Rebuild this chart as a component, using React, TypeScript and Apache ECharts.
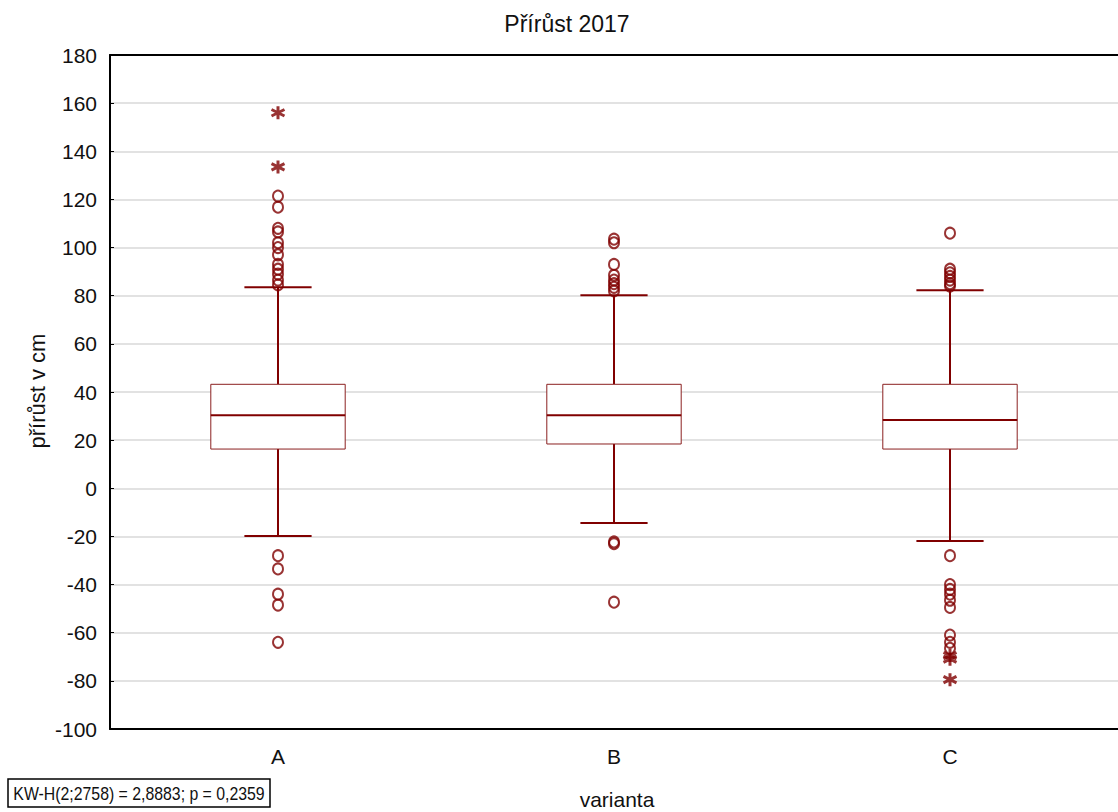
import React, { useEffect, useRef } from 'react';
import * as echarts from 'echarts';

const categories = ['A', 'B', 'C'];
const yTicks = { min: -100, max: 180, interval: 20 };
const whiskerLow = [-19.8, -14.4, -21.9];
const q1 = [16.3, 18.4, 16.3];
const median = [30.3, 30.3, 28.4];
const q3 = [43.2, 43.2, 43.2];
const whiskerHigh = [83.5, 80.2, 82.3];
const outliersA = [121.4, 116.8, 108, 106.5, 102, 100, 97, 93, 91, 89, 86.5, 84.5, -28, -33.5, -44, -48.5, -64];
const outliersB = [103.5, 102, 93, 88.5, 86.5, 85, 83.5, 82, -22.3, -23, -47.3];
const outliersC = [106, 91, 89.5, 88, 86.5, 85, 84, -28, -40, -42, -44, -46.5, -49.5, -61, -64, -66.5];
const extremesA = [156, 133.5];
const extremesB: number[] = [];
const extremesC = [-69.5, -71, -79.5];
const title = 'Přírůst 2017';
const xName = 'varianta';
const yName = 'přírůst v cm';
const statText = 'KW-H(2;2758) = 2,8883; p = 0,2359';

const RED = '#800000';
const BOX = '#8b2020';
const FONT = 'Liberation Sans, Arial, sans-serif';

export default function App() {
  const ref = useRef<HTMLDivElement>(null);
  useEffect(() => {
    document.body.style.margin = '0';
    const chart = echarts.init(ref.current!, null, { renderer: 'svg' });
    const boxData = categories.map((c, i) => [i, whiskerLow[i], q1[i], median[i], q3[i], whiskerHigh[i]]);
    const outlierData: any[] = [];
    [outliersA, outliersB, outliersC].forEach((arr, i) => arr.forEach((v) => outlierData.push([categories[i], v])));
    const extremeData: any[] = [];
    [extremesA, extremesB, extremesC].forEach((arr, i) => arr.forEach((v) => extremeData.push([categories[i], v])));

    chart.setOption({
      animation: false,
      textStyle: { fontFamily: FONT },
      grid: { left: 110, right: -4, top: 55, bottom: 83 },
      xAxis: [
        {
          type: 'category',
          data: categories,
          boundaryGap: true,
          axisLine: { onZero: false, lineStyle: { color: '#000', width: 2 } },
          axisTick: { inside: true, alignWithLabel: true, length: 5, lineStyle: { color: '#000' } },
          axisLabel: { fontSize: 21, color: '#111', margin: 17 },
          splitLine: { show: false },
        },
        {
          type: 'category',
          data: categories,
          position: 'top',
          boundaryGap: true,
          axisLine: { onZero: false, lineStyle: { color: '#000', width: 2 } },
          axisTick: { inside: true, alignWithLabel: true, length: 5, lineStyle: { color: '#000' } },
          axisLabel: { show: false },
        },
      ],
      yAxis: {
        type: 'value',
        min: yTicks.min,
        max: yTicks.max,
        interval: yTicks.interval,
        axisLine: { show: true, lineStyle: { color: '#000', width: 2 } },
        axisTick: { show: true, inside: true, length: 4, lineStyle: { color: '#000' } },
        axisLabel: { fontSize: 21, color: '#111', margin: 13 },
        splitLine: { lineStyle: { color: '#d9d9d9', width: 1.5 } },
      },
      graphic: [
        { type: 'text', x: 567, y: 24, style: { text: title, fontSize: 23, fontFamily: FONT, fill: '#111', textAlign: 'center', textVerticalAlign: 'middle' } },
        { type: 'text', x: 617, y: 799, style: { text: xName, fontSize: 21, fontFamily: FONT, fill: '#111', textAlign: 'center', textVerticalAlign: 'middle' } },
        { type: 'text', x: 37, y: 391, rotation: Math.PI / 2, style: { text: yName, fontSize: 22, fontFamily: FONT, fill: '#111', textAlign: 'center', textVerticalAlign: 'middle' } },
        { type: 'rect', shape: { x: 8, y: 779, width: 262, height: 28 }, style: { fill: '#fff', stroke: '#000', lineWidth: 1.5 } },
        { type: 'text', x: 139, y: 794, scaleX: 0.88, originX: 0, originY: 0, style: { text: statText, fontSize: 18, fontFamily: FONT, fill: '#111', textAlign: 'center', textVerticalAlign: 'middle' } },
      ],
      series: [
        {
          type: 'custom',
          data: boxData,
          encode: { x: 0, y: [1, 2, 3, 4, 5] },
          z: 3,
          renderItem: (params: any, api: any) => {
            const i = api.value(0);
            const bw = api.size([1, 0])[0] * 0.4;
            const pLow = api.coord([i, api.value(1)]);
            const pQ1 = api.coord([i, api.value(2)]);
            const pMed = api.coord([i, api.value(3)]);
            const pQ3 = api.coord([i, api.value(4)]);
            const pHigh = api.coord([i, api.value(5)]);
            const x = pMed[0];
            const cap = bw / 4;
            const ws = { stroke: RED, lineWidth: 2 };
            return {
              type: 'group',
              children: [
                { type: 'line', shape: { x1: x, y1: pQ3[1], x2: x, y2: pHigh[1] }, style: ws },
                { type: 'line', shape: { x1: x, y1: pQ1[1], x2: x, y2: pLow[1] }, style: ws },
                { type: 'line', shape: { x1: x - cap, y1: pHigh[1], x2: x + cap, y2: pHigh[1] }, style: ws },
                { type: 'line', shape: { x1: x - cap, y1: pLow[1], x2: x + cap, y2: pLow[1] }, style: ws },
                { type: 'rect', shape: { x: x - bw / 2, y: pQ3[1], width: bw, height: pQ1[1] - pQ3[1] }, style: { fill: '#fff', stroke: BOX, lineWidth: 1 } },
                { type: 'line', shape: { x1: x - bw / 2, y1: pMed[1], x2: x + bw / 2, y2: pMed[1] }, style: ws },
              ],
            };
          },
        },
        {
          type: 'scatter',
          data: outlierData,
          symbol: 'circle',
          symbolSize: [10, 11],
          z: 4,
          itemStyle: { color: 'rgba(255,255,255,0)', borderColor: RED, borderWidth: 2 },
        },
        {
          type: 'scatter',
          data: extremeData,
          symbol: 'path://M5,0L5,10M0.7,2.5L9.3,7.5M0.7,7.5L9.3,2.5',
          symbolSize: 13,
          z: 4,
          itemStyle: { color: 'none', borderColor: RED, borderWidth: 3 },
        },
      ],
    });
    return () => chart.dispose();
  }, []);
  return <div ref={ref} style={{ width: 1118, height: 812 }} />;
}
